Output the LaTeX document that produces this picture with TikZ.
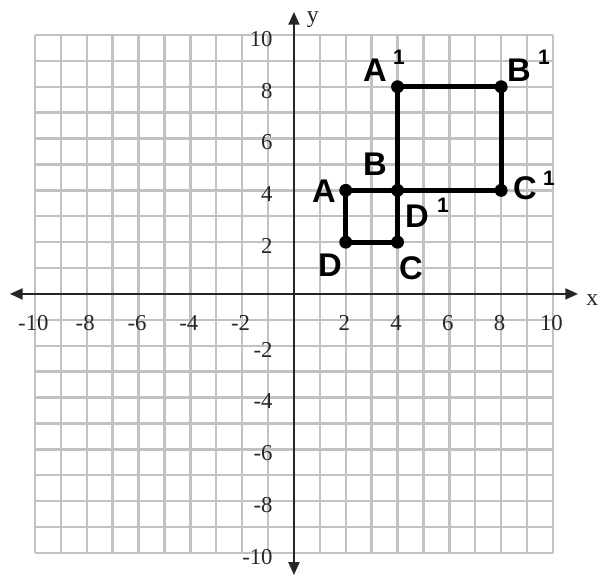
\documentclass[tikz,border=0pt]{standalone}
\usepackage{fontspec}
\setmainfont{Liberation Serif}
\newfontfamily\lblfont{Liberation Sans}
\usetikzlibrary{arrows.meta}
\begin{document}
\begin{tikzpicture}[x=0.5cm,y=0.5cm,
  gridline/.style={draw=black!24, line width=1.3pt},
  axisline/.style={draw=black!85, line width=1.1pt,
    {Triangle[length=7pt,width=6pt]}-{Triangle[length=7pt,width=6pt]}},
  ticklbl/.style={inner sep=0pt, font=\fontsize{12.5}{12.5}\selectfont, text=black!85},
  xtick/.style={ticklbl, anchor=base},
  ytick/.style={ticklbl, anchor=base east},
  axlbl/.style={inner sep=0pt, font=\fontsize{13}{13}\selectfont, anchor=base, text=black!85},
  dot/.style={circle, fill=black, inner sep=0pt, minimum size=0.25cm},
  sq/.style={draw=black, line width=2.6pt, line join=round},
  ptlbl/.style={inner sep=0pt, font=\lblfont\bfseries\fontsize{18}{18}\selectfont},
  suplbl/.style={inner sep=0pt, font=\lblfont\bfseries\fontsize{11.5}{11.5}\selectfont}
]
\useasboundingbox (-11.35,-10.93) rectangle (12.01,11.35);
\fill[white] (-11.35,-10.93) rectangle (12.01,11.35);
% grid
\draw[gridline, step=0.5cm] (-10,-10) grid (10,10);
% axes
\coordinate (xl) at (-10.97,0);
\coordinate (xr) at (10.97,0);
\coordinate (yb) at (0,-10.85);
\coordinate (yt) at (0,10.89);
\draw[axisline] (xl) -- (xr);
\draw[axisline] (yb) -- (yt);
\node[axlbl] (xlab) at (11.52,-0.43) {x};
\node[axlbl] (ylab) at (0.73,10.5) {y};
% tick labels
\foreach \v in {-10,-8,-6,-4,-2,2,4,6,8,10}{
  \node[xtick] (xt\v) at (\v-0.06,-1.43) {\v};
  \node[ytick] (yt\v) at (-0.81,\v-0.44) {\v};
}
% points
\node[dot] (A) at (2,4) {};
\node[dot] (B) at (4,4) {};
\node[dot] (C) at (4,2) {};
\node[dot] (D) at (2,2) {};
\node[dot] (A1) at (4,8) {};
\node[dot] (B1) at (8,8) {};
\node[dot] (C1) at (8,4) {};
% small square
\draw[sq] (A.center) -- (B.center) -- (C.center) -- (D.center) -- cycle;
% large square
\draw[sq] (A1.center) -- (B1.center) -- (C1.center) -- (B.center) -- cycle;
% labels
\node[ptlbl] (lA) at (1.16,3.98) {A};
\node[ptlbl] (lB) at (3.13,5.02) {B};
\node[ptlbl] (lD) at (1.39,1.12) {D};
\node[ptlbl] (lC) at (4.52,1.00) {C};
\node[ptlbl] (lD1) at (4.75,3.01) {D};
\node[suplbl] (sD1) at (5.75,3.44) {1};
\node[ptlbl] (lA1) at (3.13,8.65) {A};
\node[suplbl] (sA1) at (4.05,9.15) {1};
\node[ptlbl] (lB1) at (8.69,8.65) {B};
\node[suplbl] (sB1) at (9.65,9.15) {1};
\node[ptlbl] (lC1) at (8.92,4.09) {C};
\node[suplbl] (sC1) at (9.85,4.48) {1};
\end{tikzpicture}
\end{document}
